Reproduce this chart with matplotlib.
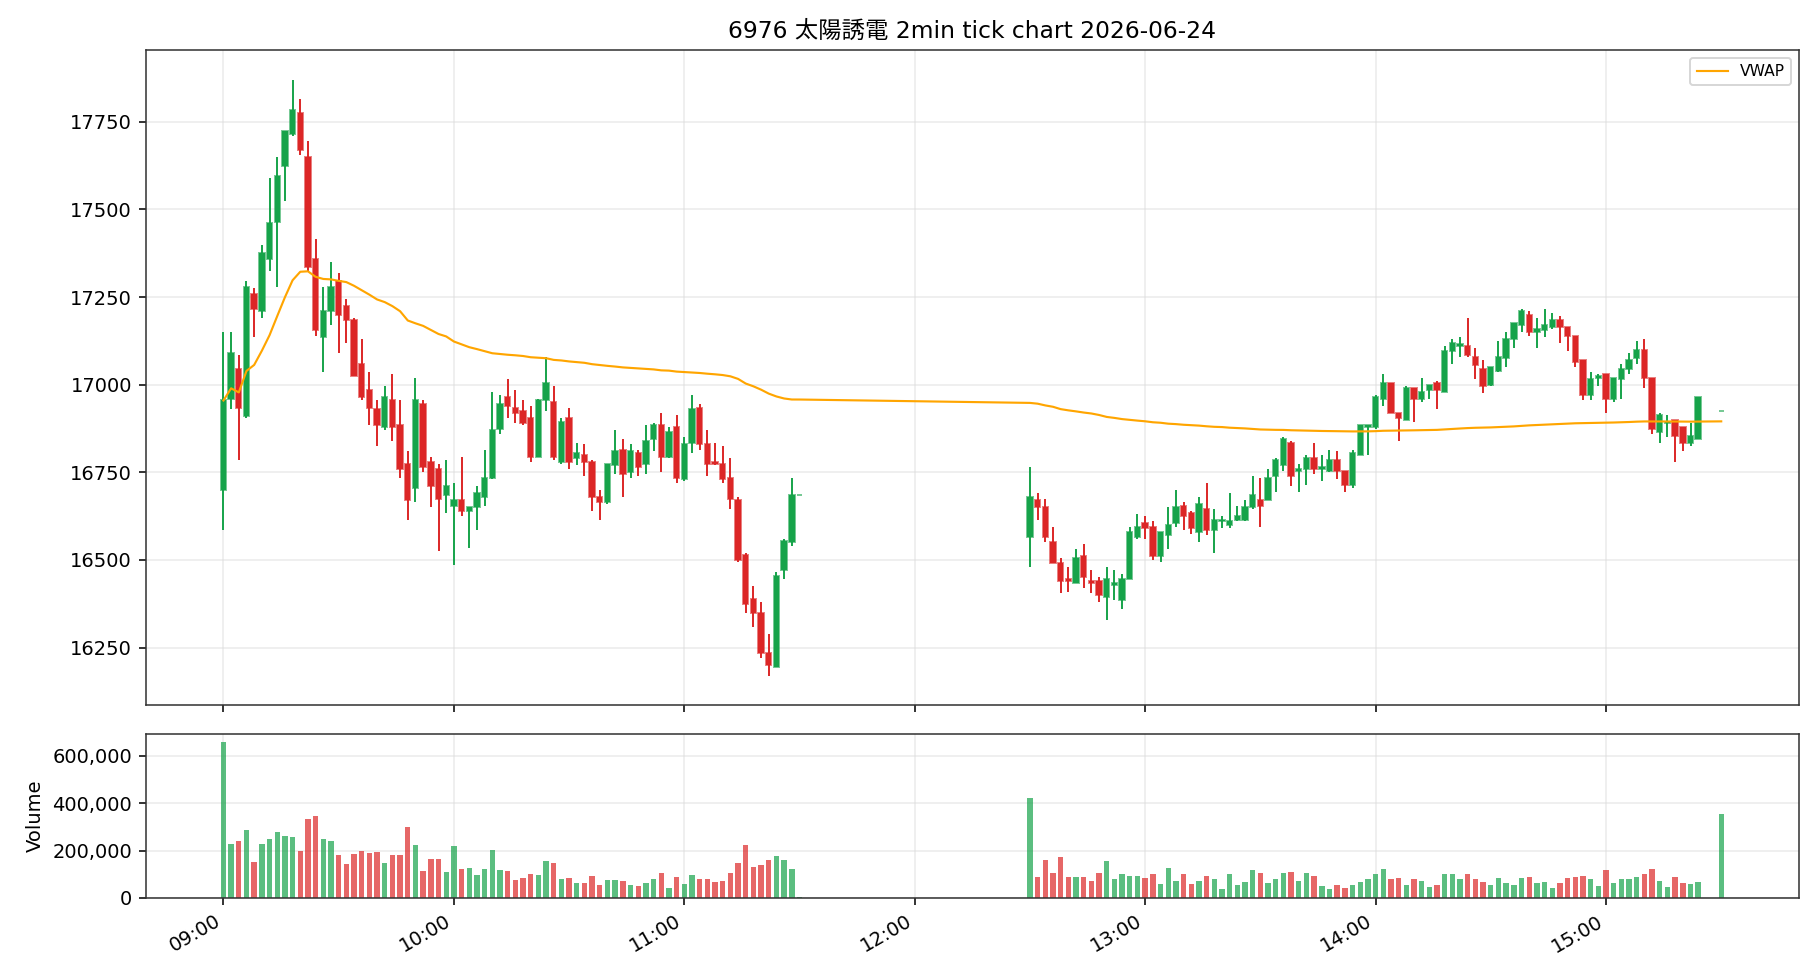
import matplotlib
matplotlib.use("Agg")
import matplotlib.pyplot as plt
import matplotlib.dates as mdates
from matplotlib.ticker import MultipleLocator, FuncFormatter
import numpy as np
import pandas as pd

plt.rcParams['font.family'] = ['DejaVu Sans', 'Noto Sans CJK JP']

# morning session 09:00-11:30, afternoon 12:30-15:24 plus closing auction 15:30
am_times = pd.date_range("2026-06-24 09:00", "2026-06-24 11:30", freq="2min")
pm_times = pd.date_range("2026-06-24 12:30", "2026-06-24 15:24", freq="2min")
close_time = pd.DatetimeIndex(["2026-06-24 15:30"])
times = am_times.append(pm_times).append(close_time)

am_open = [16700, 16960, 17045, 16910, 17260, 17210, 17360, 17465, 17625, 17715,
           17775, 17650, 17360, 17135, 17210, 17295, 17225, 17185, 17060, 16985,
           16930, 16880, 16955, 16885, 16775, 16705, 16945, 16780, 16760, 16685,
           16655, 16670, 16640, 16650, 16680, 16735, 16875, 16965, 16935, 16925,
           16905, 16795, 16955, 16950, 16780, 16905, 16790, 16800, 16780, 16680,
           16665, 16770, 16815, 16750, 16805, 16775, 16845, 16885, 16795, 16880,
           16730, 16835, 16935, 16830, 16780, 16775, 16735, 16670, 16515, 16390,
           16350, 16235, 16195, 16470, 16550, 16685]
am_high = [17150, 17150, 17085, 17295, 17275, 17400, 17590, 17650, 17725, 17870,
           17815, 17695, 17415, 17280, 17350, 17320, 17245, 17190, 17130, 17035,
           16955, 16995, 17030, 16955, 16810, 17020, 16955, 16795, 16775, 16785,
           16720, 16795, 16650, 16710, 16815, 16980, 16970, 17015, 16985, 16955,
           16940, 16960, 17080, 16995, 16905, 16935, 16835, 16830, 16785, 16700,
           16775, 16870, 16845, 16830, 16815, 16885, 16890, 16920, 16880, 16915,
           16850, 16970, 16945, 16870, 16835, 16825, 16790, 16680, 16520, 16425,
           16380, 16290, 16465, 16560, 16735, 16685]
am_low = [16585, 16930, 16785, 16905, 17135, 17190, 17325, 17280, 17525, 17710,
          17655, 17325, 17140, 17035, 17170, 17090, 17120, 17025, 16955, 16885,
          16825, 16870, 16840, 16735, 16615, 16665, 16750, 16650, 16525, 16635,
          16485, 16625, 16535, 16585, 16655, 16730, 16860, 16905, 16890, 16885,
          16780, 16795, 16925, 16785, 16775, 16760, 16770, 16740, 16640, 16615,
          16660, 16745, 16680, 16735, 16740, 16745, 16810, 16750, 16790, 16720,
          16725, 16805, 16815, 16740, 16770, 16720, 16645, 16495, 16350, 16310,
          16220, 16170, 16195, 16445, 16540, 16685]
am_close = [16955, 17090, 16935, 17280, 17215, 17375, 17460, 17595, 17725, 17785,
            17670, 17335, 17155, 17210, 17280, 17200, 17185, 17025, 16965, 16935,
            16885, 16965, 16880, 16760, 16670, 16955, 16765, 16710, 16675, 16710,
            16670, 16640, 16650, 16690, 16735, 16870, 16945, 16940, 16920, 16890,
            16795, 16955, 17005, 16795, 16895, 16780, 16805, 16780, 16680, 16665,
            16775, 16810, 16745, 16810, 16765, 16840, 16885, 16795, 16865, 16735,
            16830, 16930, 16830, 16775, 16775, 16730, 16675, 16500, 16375, 16350,
            16235, 16200, 16455, 16555, 16685, 16685]
am_volume = [658000, 228000, 241000, 287000, 153000, 228000, 249000, 279000, 262000, 258000,
             199000, 333000, 346000, 249000, 241000, 182000, 144000, 186000, 199000, 191000,
             195000, 149000, 182000, 182000, 300000, 224000, 115000, 165000, 165000, 111000,
             220000, 123000, 127000, 98000, 123000, 203000, 119000, 115000, 77000, 85000,
             102000, 98000, 157000, 149000, 81000, 85000, 64000, 64000, 94000, 56000,
             77000, 77000, 73000, 56000, 52000, 64000, 81000, 106000, 43000, 90000,
             60000, 98000, 81000, 81000, 69000, 73000, 106000, 149000, 224000, 132000,
             140000, 161000, 178000, 161000, 123000, 3000]

pm_open = [16565, 16670, 16650, 16550, 16490, 16445, 16435, 16510, 16440, 16440,
           16395, 16430, 16385, 16445, 16565, 16605, 16595, 16510, 16570, 16605,
           16655, 16635, 16580, 16645, 16585, 16610, 16600, 16615, 16615, 16650,
           16670, 16670, 16740, 16770, 16835, 16755, 16760, 16790, 16760, 16755,
           16785, 16755, 16715, 16800, 16880, 16880, 16960, 17005, 16920, 16900,
           16990, 16960, 16985, 17005, 16980, 17095, 17110, 17110, 17080, 17045,
           17000, 17040, 17075, 17130, 17170, 17200, 17150, 17155, 17165, 17185,
           17165, 17140, 17070, 16970, 17020, 17030, 16960, 17015, 17045, 17075,
           17100, 17020, 16865, 16890, 16900, 16880, 16835, 16845, 16925]
pm_high = [16765, 16690, 16675, 16595, 16505, 16480, 16530, 16545, 16470, 16450,
           16480, 16470, 16460, 16595, 16630, 16625, 16610, 16580, 16650, 16700,
           16665, 16640, 16680, 16720, 16645, 16625, 16690, 16655, 16670, 16740,
           16735, 16760, 16790, 16850, 16840, 16775, 16800, 16835, 16800, 16815,
           16810, 16755, 16815, 16885, 16885, 16970, 17030, 17005, 16920, 16995,
           16990, 17020, 17000, 17010, 17110, 17130, 17135, 17190, 17105, 17070,
           17050, 17125, 17150, 17175, 17215, 17210, 17190, 17215, 17205, 17195,
           17165, 17140, 17070, 17035, 17030, 17030, 17020, 17060, 17090, 17125,
           17130, 17020, 16920, 16915, 16900, 16880, 16890, 16965, 16925]
pm_low = [16480, 16615, 16550, 16490, 16405, 16410, 16435, 16420, 16405, 16380,
          16330, 16385, 16360, 16445, 16560, 16560, 16500, 16495, 16530, 16595,
          16585, 16575, 16550, 16570, 16520, 16590, 16590, 16610, 16610, 16645,
          16595, 16670, 16695, 16755, 16710, 16695, 16715, 16745, 16725, 16750,
          16730, 16695, 16705, 16800, 16800, 16875, 16940, 16920, 16840, 16900,
          16895, 16950, 16960, 16930, 16980, 17060, 17080, 17080, 17015, 16975,
          16995, 17035, 17050, 17105, 17150, 17140, 17105, 17135, 17160, 17120,
          17095, 17050, 16955, 16955, 16995, 16920, 16950, 16960, 17030, 17060,
          16990, 16860, 16835, 16850, 16780, 16810, 16825, 16845, 16925]
pm_close = [16680, 16650, 16565, 16490, 16440, 16440, 16505, 16450, 16435, 16400,
            16445, 16435, 16445, 16580, 16595, 16590, 16510, 16580, 16600, 16650,
            16625, 16590, 16660, 16585, 16615, 16615, 16610, 16625, 16650, 16685,
            16655, 16735, 16785, 16845, 16740, 16760, 16790, 16760, 16765, 16785,
            16755, 16715, 16805, 16885, 16885, 16965, 17005, 16920, 16905, 16990,
            16960, 16980, 17000, 16985, 17095, 17120, 17115, 17085, 17055, 16995,
            17050, 17080, 17130, 17175, 17210, 17150, 17160, 17170, 17185, 17165,
            17140, 17065, 16970, 17015, 17025, 16960, 17020, 17045, 17070, 17100,
            17020, 16875, 16915, 16895, 16855, 16835, 16855, 16965, 16925]
pm_volume = [420000, 90000, 162000, 107000, 171000, 90000, 90000, 90000, 73000, 107000,
             158000, 78000, 99000, 94000, 94000, 86000, 99000, 61000, 128000, 73000,
             99000, 61000, 73000, 94000, 82000, 39000, 99000, 56000, 69000, 116000,
             107000, 65000, 82000, 107000, 111000, 73000, 107000, 94000, 52000, 39000,
             56000, 44000, 56000, 69000, 78000, 103000, 124000, 82000, 86000, 56000,
             82000, 73000, 48000, 56000, 103000, 99000, 78000, 99000, 82000, 69000,
             56000, 86000, 65000, 56000, 86000, 90000, 65000, 69000, 44000, 65000,
             86000, 90000, 94000, 78000, 52000, 116000, 65000, 82000, 78000, 90000,
             99000, 124000, 73000, 48000, 90000, 65000, 61000, 69000, 352000]

o = np.array(am_open + pm_open, dtype=float)
h = np.array(am_high + pm_high, dtype=float)
l = np.array(am_low + pm_low, dtype=float)
c = np.array(am_close + pm_close, dtype=float)
v = np.array(am_volume + pm_volume, dtype=float)

vwap = np.cumsum(c * v) / np.cumsum(v)

up = c >= o
green = "#16a34a"
red = "#dc2626"
colors = [green if u else red for u in up]
x = mdates.date2num(times.to_pydatetime())
width = 1.4 / 1440

fig = plt.figure(figsize=(13, 7), dpi=140)
gs = fig.add_gridspec(2, 1, height_ratios=[4, 1], hspace=0.07,
                      left=0.080, right=0.9885, top=0.949, bottom=0.0837)
ax = fig.add_subplot(gs[0])
axv = fig.add_subplot(gs[1], sharex=ax)

ax.vlines(x, l, h, colors=colors, linewidth=1.0, zorder=2)
edge = [(0.086, 0.64, 0.29, 0.6) if u else (0.86, 0.15, 0.15, 0.6) for u in up]
ax.bar(x, np.abs(c - o), bottom=np.minimum(o, c), width=width,
       color=colors, edgecolor=edge, linewidth=1.0, zorder=3)
ax.plot(x, vwap, color="orange", linewidth=1.1, label="VWAP", zorder=4)

ax.set_title("6976 太陽誘電 2min tick chart 2026-06-24", fontsize=12)
ax.yaxis.set_major_locator(MultipleLocator(250))
ax.grid(True, color="#dddddd", alpha=0.6, linewidth=0.8)
ax.set_axisbelow(True)
ax.legend(loc="upper right", fontsize=8)
ax.tick_params(labelbottom=False)

axv.bar(x, v, width=width, color=colors, alpha=0.7)
axv.set_ylabel("Volume")
axv.yaxis.set_major_locator(MultipleLocator(200000))
axv.yaxis.set_major_formatter(FuncFormatter(lambda val, pos: f"{val:,.0f}"))
axv.grid(True, color="#dddddd", alpha=0.6, linewidth=0.8)
axv.set_axisbelow(True)

axv.xaxis.set_major_locator(mdates.HourLocator())
axv.xaxis.set_major_formatter(mdates.DateFormatter("%H:%M"))
plt.setp(axv.get_xticklabels(), rotation=30, ha="right")

for a in (ax, axv):
    for s in a.spines.values():
        s.set_color("#333333")

fig.savefig("out.png", dpi=140)
